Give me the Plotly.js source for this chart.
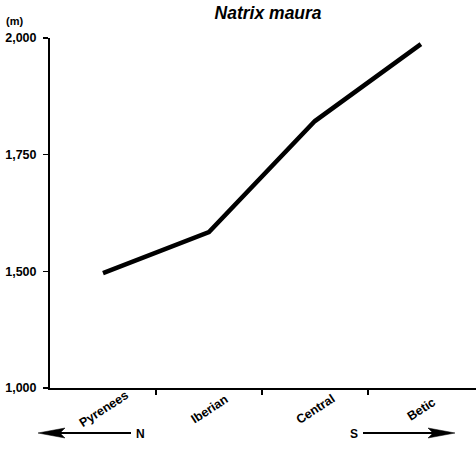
<!DOCTYPE html>
<html>
<head>
<meta charset="utf-8">
<script src="https://cdn.plot.ly/plotly-3.0.1.min.js"></script>
<style>html,body{margin:0;padding:0;background:#fff}#chart{width:476px;height:453px}</style>
</head>
<body>
<div id="chart"></div>
<script>
// Data
var regions = ['Pyrenees', 'Iberian', 'Central', 'Betic'];
var altitude = [1496, 1584, 1822, 1987];
// Broken y axis: the lowest label "1,000" sits one step below 1,500
var yTickVals = [1250, 1500, 1750, 2000];
var yTickText = ['1,000', '1,500', '1,750', '2,000'];
var xIndex = regions.map(function (r, i) { return i; });

var FONT = 'Arial, "Liberation Sans", Helvetica, sans-serif';
var W = 476, H = 453, ML = 50, MR = 0, MT = 38, MB = 65;
var PW = W - ML - MR, PH = H - MT - MB;
function px(x) { return (x - ML) / PW; }
function py(y) { return (H - MB - y) / PH; }

var trace = {
  type: 'scatter',
  mode: 'lines',
  x: xIndex,
  y: altitude,
  line: { color: '#000', width: 4.5 },
  hoverinfo: 'skip'
};

var annotations = regions.map(function (r, i) {
  return {
    x: i, xref: 'x', y: 0, yref: 'paper',
    text: '<b>' + r + '</b>', showarrow: false,
    textangle: -33, xanchor: 'center', yanchor: 'middle',
    yshift: -21, xshift: 1,
    font: { family: FONT, size: 12.5, color: '#000' }
  };
});
annotations.push({
  x: px(14), xref: 'paper', y: py(21), yref: 'paper',
  text: '<b>(m)</b>', showarrow: false, xanchor: 'center', yanchor: 'middle',
  font: { family: FONT, size: 11, color: '#000' }
});
annotations.push({
  x: px(140), xref: 'paper', y: py(434), yref: 'paper',
  text: '<b>N</b>', showarrow: false, xanchor: 'center', yanchor: 'middle',
  font: { family: FONT, size: 12, color: '#000' }
});
annotations.push({
  x: px(354), xref: 'paper', y: py(434), yref: 'paper',
  text: '<b>S</b>', showarrow: false, xanchor: 'center', yanchor: 'middle',
  font: { family: FONT, size: 12, color: '#000' }
});

// Direction arrows (decoration), built in pixel terms
function arrowShapes(x0, x1, y) {
  var dir = x1 > x0 ? 1 : -1;
  var back = x1 - dir * 27, notch = x1 - dir * 22;
  return [
    { type: 'line', xref: 'paper', yref: 'paper',
      x0: px(x0), y0: py(y), x1: px(notch), y1: py(y),
      line: { color: '#000', width: 2 } },
    { type: 'path', xref: 'paper', yref: 'paper',
      path: 'M' + px(x1) + ',' + py(y) +
            ' L' + px(back) + ',' + py(y - 5) +
            ' L' + px(notch) + ',' + py(y) +
            ' L' + px(back) + ',' + py(y + 5) + ' Z',
      fillcolor: '#000', line: { color: '#000', width: 0.5 } }
  ];
}
var shapes = arrowShapes(131, 38, 433).concat(arrowShapes(363, 455, 433));

var layout = {
  width: W, height: H,
  margin: { l: ML, r: MR, t: MT, b: MB },
  paper_bgcolor: '#fff', plot_bgcolor: '#fff',
  showlegend: false,
  font: { family: FONT, color: '#000' },
  title: {
    text: '<b><i>Natrix maura</i></b>',
    font: { family: FONT, size: 17.5, color: '#000' },
    x: 0.512, xanchor: 'center', xref: 'paper',
    y: 0.971, yanchor: 'middle', yref: 'container'
  },
  xaxis: {
    range: [-0.5, 3.52],
    tickvals: [0.5, 1.5, 2.5],
    showticklabels: false,
    ticks: 'outside', ticklen: 5, tickwidth: 1.5, tickcolor: '#000',
    showline: true, linecolor: '#000', linewidth: 2,
    showgrid: false, zeroline: false, fixedrange: true
  },
  yaxis: {
    range: [1250, 2000],
    tickvals: yTickVals, ticktext: yTickText,
    ticks: 'outside', ticklen: 5, tickwidth: 1.5, tickcolor: '#000',
    ticklabelstandoff: 4,
    tickfont: { family: FONT, size: 12.5, color: '#000', weight: 'bold' },
    showline: true, linecolor: '#000', linewidth: 2,
    showgrid: false, zeroline: false, fixedrange: true
  },
  shapes: shapes,
  annotations: annotations
};

Plotly.newPlot('chart', [trace], layout, { staticPlot: true, displayModeBar: false });
</script>
</body>
</html>
